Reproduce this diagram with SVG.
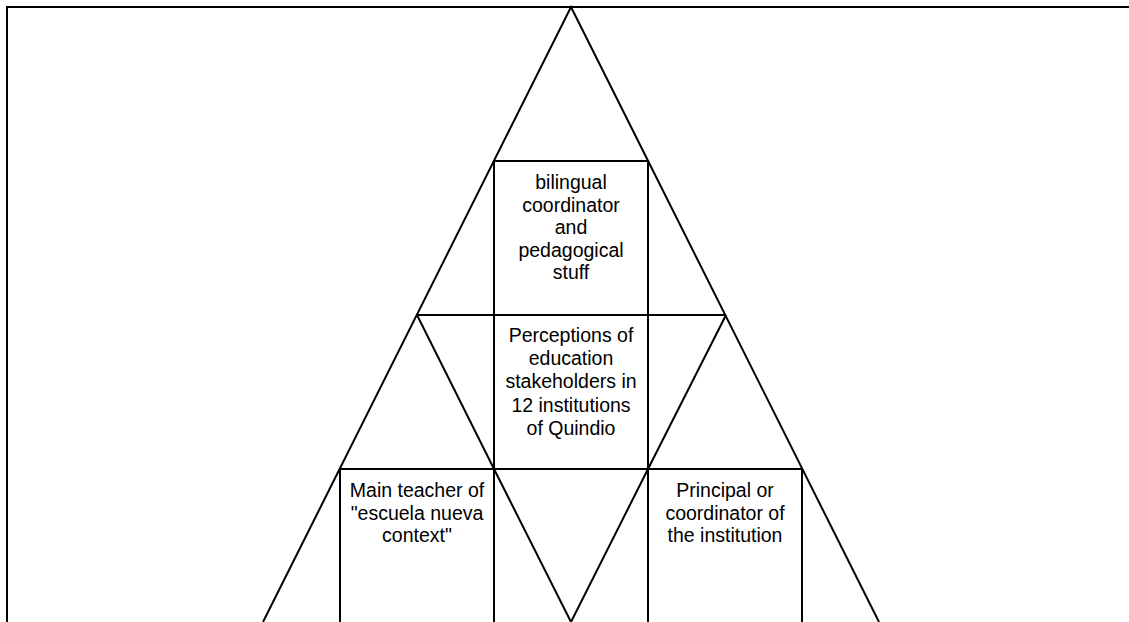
<svg xmlns="http://www.w3.org/2000/svg" width="1129" height="622" viewBox="0 0 1129 622">
<style>
.ln{fill:none;stroke:#000;stroke-width:2;stroke-linejoin:miter}
.bx{fill:none;stroke:#000;stroke-width:2}
.t{font-family:"Liberation Sans",Arial,sans-serif;font-size:19.5px;fill:#000;text-anchor:middle}
</style>
<rect width="1129" height="622" fill="#fff"/>
<g id="frame"><path class="ln" d="M7,622 V7 H1129"/></g>
<g id="connectors">
<path class="ln" d="M263,622 L571,7 L879,622"/>
<path class="ln" d="M417,315 L494,469"/>
<path class="ln" d="M726,315 L648,469"/>
<path class="ln" d="M494,469 L571,622 L648,469"/>
<path class="ln" d="M417,315 H726"/>
<path class="ln" d="M340,469 H802"/>
</g>
<g id="node-top">
<path class="bx" d="M494,315 V161 H648 V315"/>
<text class="t" x="571" y="189">bilingual</text>
<text class="t" x="571" y="211.5">coordinator</text>
<text class="t" x="571" y="234">and</text>
<text class="t" x="571" y="256.5">pedagogical</text>
<text class="t" x="571" y="279">stuff</text>
</g>
<g id="node-center">
<path class="bx" d="M494,315 V469 M648,315 V469"/>
<text class="t" x="571" y="342">Perceptions of</text>
<text class="t" x="571" y="365">education</text>
<text class="t" x="571" y="388">stakeholders in</text>
<text class="t" x="571" y="411.5">12 institutions</text>
<text class="t" x="571" y="434.5">of Quindio</text>
</g>
<g id="node-left">
<path class="bx" d="M340,469 V622 M494,469 V622"/>
<text class="t" x="417" y="497">Main teacher of</text>
<text class="t" x="417" y="519.5">"escuela nueva</text>
<text class="t" x="417" y="542">context"</text>
</g>
<g id="node-right">
<path class="bx" d="M648,469 V622 M802,469 V622"/>
<text class="t" x="725" y="497">Principal or</text>
<text class="t" x="725" y="519.5">coordinator of</text>
<text class="t" x="725" y="542">the institution</text>
</g>
</svg>
